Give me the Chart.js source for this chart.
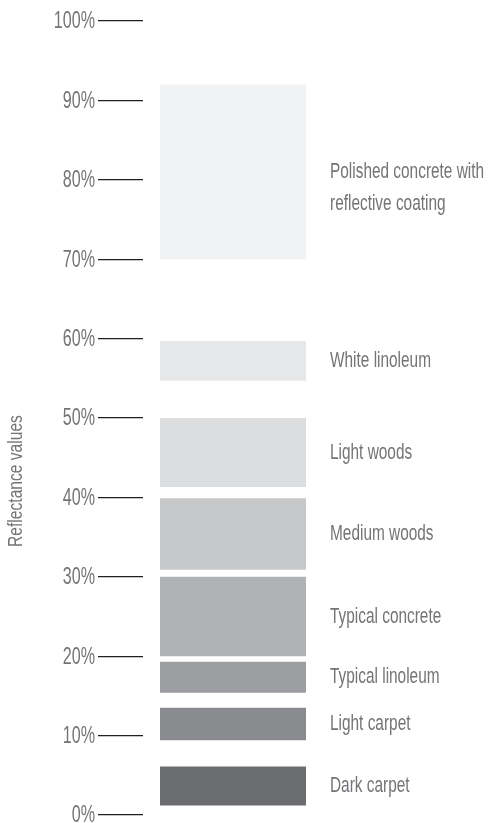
<!DOCTYPE html>
<html>
<head>
<meta charset="utf-8">
<script src="https://cdn.jsdelivr.net/npm/chart.js@4.4.0/dist/chart.umd.min.js"></script>
<style>
  html, body { margin: 0; padding: 0; background: #fff; }
  #wrap { width: 488px; height: 823px; position: relative; }
</style>
</head>
<body>
<div id="wrap"><canvas id="chart"></canvas></div>
<script>
// floor materials, top to bottom
const materials = [
  ['Polished concrete with', 'reflective coating'],
  'White linoleum',
  'Light woods',
  'Medium woods',
  'Typical concrete',
  'Typical linoleum',
  'Light carpet',
  'Dark carpet'
];
// reflectance range (%) for each material
const lowValues  = [70, 54.7, 41.3, 30.9, 20, 15.4, 9.4, 1.2];
const highValues = [92, 59.7, 50, 39.9, 30, 19.3, 13.5, 6.1];
const barColors = ['#f1f2f4', '#e6e7e8', '#dcdddf', '#c7c8ca', '#b1b2b5', '#9d9ea2', '#8a8b8f', '#6b6c70'];
const yTicks = [0, 10, 20, 30, 40, 50, 60, 70, 80, 90, 100];
const tickLabels = yTicks.map(v => v + '%');
const axisTitle = 'Reflectance values';

const FONT = "'Liberation Sans', Arimo, sans-serif";
const TEXT = '#737477';

// narrow text: the original uses a tall condensed hand font
function drawText(ctx, txt, x, y, size, align, sx) {
  ctx.save();
  ctx.translate(x, y);
  ctx.scale(sx, 1);
  ctx.font = size + 'px ' + FONT;
  ctx.textAlign = align;
  ctx.textBaseline = 'middle';
  ctx.fillText(txt, 0, 0);
  ctx.restore();
}

const textLayer = {
  id: 'textLayer',
  afterDatasetsDraw(chart) {
    const ctx = chart.ctx;
    const y = chart.scales.y;
    ctx.save();
    ctx.fillStyle = TEXT;
    // tick labels
    yTicks.forEach((v, i) => {
      drawText(ctx, tickLabels[i], y.right - 48, y.getPixelForValue(v) + 1, 23, 'right', 0.7);
    });
    // labels to the right of each bar
    chart.data.datasets.forEach((ds, i) => {
      const bar = chart.getDatasetMeta(i).data[0];
      const mid = (bar.y + bar.base) / 2;
      const x = bar.x + bar.width / 2 + 24;
      const lines = Array.isArray(ds.label) ? ds.label : [ds.label];
      lines.forEach((t, j) => {
        drawText(ctx, t, x, mid + j * 32, 22, 'left', 0.7);
      });
    });
    // axis title
    ctx.translate(16, 481);
    ctx.rotate(-Math.PI / 2);
    drawText(ctx, axisTitle, 0, 0, 20, 'center', 0.78);
    ctx.restore();
  }
};

const chart = new Chart(document.getElementById('chart'), {
  type: 'bar',
  data: {
    labels: [''],
    datasets: materials.map((m, i) => ({
      label: m,
      data: [[lowValues[i], highValues[i]]],
      backgroundColor: barColors[i],
      borderWidth: 0,
      grouped: false,
      categoryPercentage: 1,
      barPercentage: 146 / 180
    }))
  },
  options: {
    responsive: true,
    maintainAspectRatio: false,
    animation: false,
    layout: { padding: { top: 21, bottom: 8, left: 0, right: 165 } },
    plugins: { legend: { display: false }, tooltip: { enabled: false } },
    scales: {
      x: { display: false, offset: true },
      y: {
        min: 0,
        max: 100,
        afterBuildTicks(scale) {
          scale.ticks = yTicks.map(v => ({ value: v }));
        },
        afterFit(scale) {
          scale.width = 143;
          scale.paddingTop = 0;
          scale.paddingBottom = 0;
        },
        ticks: { color: 'rgba(0,0,0,0)' },
        grid: {
          drawOnChartArea: false,
          drawTicks: true,
          tickLength: 45,
          color: '#231f20',
          lineWidth: 1.3
        },
        border: { display: false }
      }
    }
  },
  plugins: [textLayer]
});
</script>
</body>
</html>
